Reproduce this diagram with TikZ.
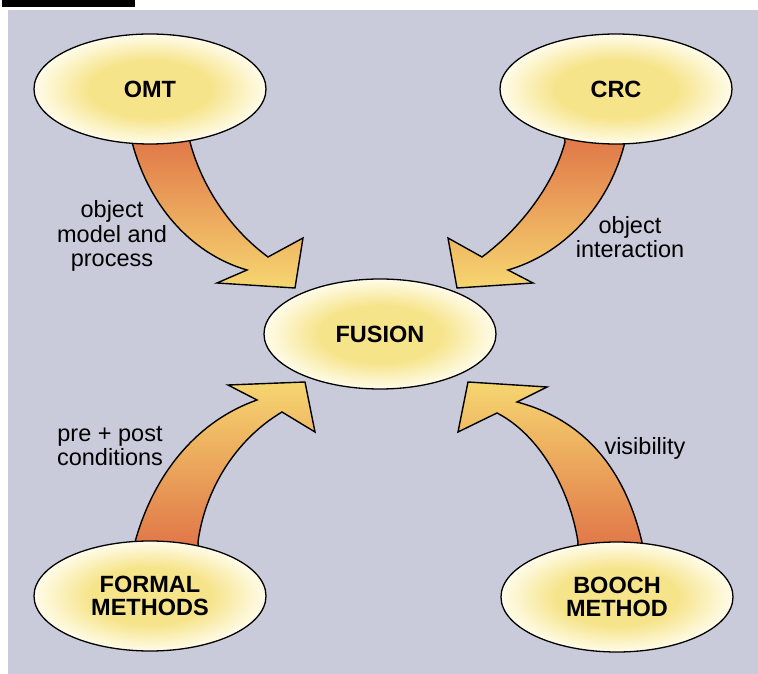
\documentclass[tikz,border=0pt]{standalone}
\usepackage{fontspec}
\setmainfont{Liberation Sans}
\usetikzlibrary{positioning,calc,shapes.geometric,backgrounds}

\definecolor{paper}{RGB}{201,203,219}
\definecolor{ovalin}{RGB}{246,228,138}
\definecolor{ovalout}{RGB}{255,252,234}
\definecolor{tailred}{RGB}{222,108,68}
\definecolor{headyellow}{RGB}{246,214,112}
\pgfdeclareradialshading{ovalshade}{\pgfpoint{0bp}{0bp}}{color(0bp)=(ovalin); color(13bp)=(ovalin); color(25bp)=(ovalout); color(50bp)=(ovalout)}

\begin{document}
\begin{tikzpicture}[x=1pt,y=1pt,on grid,
    oval node/.style={ellipse,draw,line width=1.3pt,minimum width=232pt,minimum height=110pt,inner sep=0pt,shade,shading=ovalshade,align=center,font=\bfseries\fontsize{23.5}{23.5}\selectfont},
    flow tag/.style={align=center,font=\fontsize{23.5}{24.5}\selectfont},
    arrow body/.style={draw,line width=1.4pt,line join=miter}]

    \path[use as bounding box] (-380,-340) rectangle (378,334);

    \node (fusion) [oval node] {FUSION};
    \node (omt) [oval node, above left=245pt and 230pt of fusion] {OMT};
    \node (crc) [oval node, above right=245pt and 236pt of fusion] {CRC};
    \node (formal) [oval node, below left=262pt and 230pt of fusion] {FORMAL\\METHODS};
    \node (booch) [oval node, below right=263pt and 237pt of fusion] {BOOCH\\METHOD};

    \node (omttag) [flow tag, above left=98pt and 268pt of fusion] {object\\model and\\process};
    \node (crctag) [flow tag, above right=97pt and 250pt of fusion] {object\\interaction};
    \node (formaltag) [flow tag, below left=112pt and 270pt of fusion] {pre + post\\conditions};
    \node (boochtag) [flow tag, below right=114pt and 265pt of fusion] {visibility};

    \begin{pgfonlayer}{background}
    \fill[white] (-380,-340) rectangle (378,334);
    \fill[paper] (-372,-340) rectangle (378,324);
    \fill[black] (-378,327) rectangle (-245,334);

    % OMT -> FUSION
    \path[arrow body, top color=tailred, bottom color=headyellow]
        ($(omt)+(-25,-31)$) -- ($(omt)+(-18,-53)$)
        .. controls ($(fusion)+(-230,124)$) and ($(fusion)+(-185,79)$) .. ($(fusion)+(-133,64)$)
        -- ($(fusion)+(-163,51)$) -- ($(fusion)+(-85,46)$) -- ($(fusion)+(-77,96)$) -- ($(fusion)+(-112,77)$)
        .. controls ($(fusion)+(-155,109)$) and ($(fusion)+(-180,154)$) .. ($(omt)+(40,-53)$)
        -- ($(omt)+(42,-31)$) -- cycle;

    % CRC -> FUSION
    \path[arrow body, top color=tailred, bottom color=headyellow]
        ($(crc)+(12,-31)$) -- ($(crc)+(9,-53)$)
        .. controls ($(fusion)+(228,124)$) and ($(fusion)+(180,79)$) .. ($(fusion)+(128,64)$)
        -- ($(fusion)+(153,51)$) -- ($(fusion)+(77,46)$) -- ($(fusion)+(68,96)$) -- ($(fusion)+(102,77)$)
        .. controls ($(fusion)+(145,109)$) and ($(fusion)+(175,154)$) .. ($(crc)+(-51,-53)$)
        -- ($(crc)+(-54,-31)$) -- cycle;

    % FORMAL METHODS -> FUSION
    \path[arrow body, bottom color=tailred, top color=headyellow]
        ($(formal)+(-18,31)$) -- ($(formal)+(-15,54)$)
        .. controls ($(fusion)+(-225,-136)$) and ($(fusion)+(-180,-86)$) .. ($(fusion)+(-123,-66)$)
        -- ($(fusion)+(-152,-51)$) -- ($(fusion)+(-75,-48)$) -- ($(fusion)+(-65,-98)$) -- ($(fusion)+(-98,-78)$)
        .. controls ($(fusion)+(-145,-106)$) and ($(fusion)+(-175,-156)$) .. ($(formal)+(48,54)$)
        -- ($(formal)+(50,31)$) -- cycle;

    % BOOCH METHOD -> FUSION
    \path[arrow body, bottom color=tailred, top color=headyellow]
        ($(booch)+(28,32)$) -- ($(booch)+(25,55)$)
        .. controls ($(fusion)+(245,-136)$) and ($(fusion)+(205,-86)$) .. ($(fusion)+(137,-68)$)
        -- ($(fusion)+(167,-53)$) -- ($(fusion)+(88,-48)$) -- ($(fusion)+(78,-98)$) -- ($(fusion)+(117,-79)$)
        .. controls ($(fusion)+(160,-101)$) and ($(fusion)+(190,-156)$) .. ($(booch)+(-39,55)$)
        -- ($(booch)+(-41,32)$) -- cycle;
    \end{pgfonlayer}

\end{tikzpicture}
\end{document}
